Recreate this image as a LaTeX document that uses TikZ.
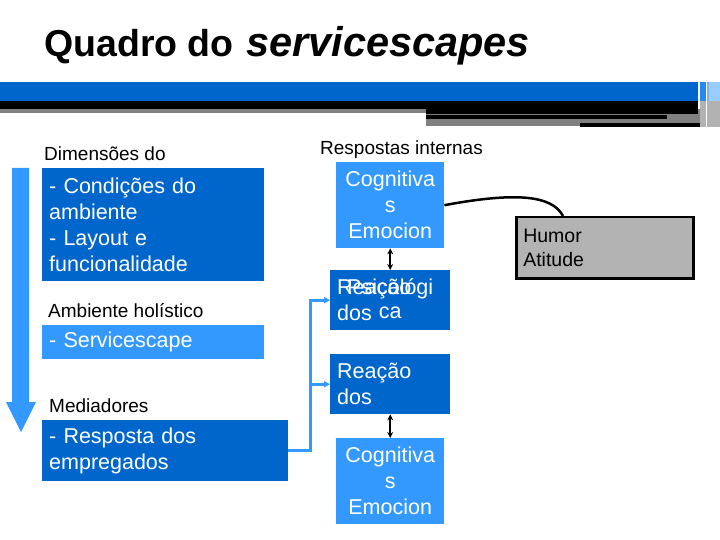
\documentclass[tikz,border=0pt]{standalone}
\usepackage{fontspec}
\setmainfont{Liberation Sans}
\usetikzlibrary{arrows.meta}
\definecolor{deepblue}{HTML}{0066CC}
\definecolor{skyblue}{HTML}{3399FF}
\definecolor{ashgray}{HTML}{B3B3B3}
\tikzset{
  darkbox/.style={fill=deepblue,text=white,anchor=north west,align=left,
    inner xsep=7pt,inner ysep=0pt,font=\fontsize{21.5}{26}\selectfont},
  lightbox/.style={darkbox,fill=skyblue},
  caption/.style={anchor=base west,inner sep=0pt,font=\fontsize{19}{22}\selectfont},
  feed/.style={skyblue,line width=3pt,-{Triangle[length=6pt,width=6pt]}},
  pair/.style={black,line width=1.6pt,{Stealth[length=6pt,width=6pt]}-{Stealth[length=6pt,width=6pt]}}
}

\begin{document}
\begin{tikzpicture}[x=1pt,y=-1pt]
\useasboundingbox (0,0) rectangle (720,540);

% title and header bars
\node[anchor=base west,inner sep=0pt,font=\fontsize{37.5}{40}\selectfont\bfseries] (title) at (44,57) {Quadro do \hspace{2pt}{\fontsize{41.5}{42}\selectfont\itshape servicescapes}};
\fill[deepblue] (0,82) rectangle (698,101);
\fill[black] (0,101) rectangle (698,109);
\fill[gray] (0,109) rectangle (426,113);
\fill[gray] (426,109) rectangle (705,126);
\fill[black] (426,109) rectangle (698,114);
\fill[black] (426,115) rectangle (667,119);
\fill[black] (580,123) rectangle (705,127);
\foreach \sx/\sw/\sc in {700/6/skyblue!70!deepblue,707/2/deepblue!50,709/11/skyblue!50} {
  \fill[\sc] (\sx,82) rectangle (\sx+\sw,101);
  \fill[gray!60] (\sx,101) rectangle (\sx+\sw,127);
}

% flow arrow on the left
\fill[skyblue] (12,168) -- (29,168) -- (29,402) -- (36,402) -- (21,432) -- (6,402) -- (12,402) -- cycle;

% left column
\node[caption] (dimlabel) at (44,161) {Dimensões do};
\node[darkbox,minimum width=222pt,minimum height=113pt,text width=208pt] (cond) at (42,168) {- Condições do\\ambiente\\- Layout e\\funcionalidade};
\node[caption] (holistic) at (48,317) {Ambiente holístico};
\node[lightbox,minimum width=222pt,minimum height=34pt,text width=208pt] (scape) at (42,325) {- Servicescape};
\node[caption] (medlabel) at (49,412) {Mediadores};
\node[darkbox,minimum width=246pt,minimum height=61pt,text width=232pt] (resp) at (42,420) {- Resposta dos\\empregados};

% right column
\node[caption] (intlabel) at (320,155) {Respostas internas};
\node[lightbox,align=center,minimum width=108pt,minimum height=86pt,text width=94pt] (cogA) at (336,162) {Cognitiva\\s\\Emocion};
\node[darkbox,minimum width=120pt,minimum height=60pt,text width=106pt] (psico) at (330,270) {Reação\\dos};
\node[text=white,align=center,inner sep=0pt,font=\fontsize{21.5}{24}\selectfont] (psicotext) at ([yshift=2pt]psico.center) {Psicológi\\ca};
\node[darkbox,minimum width=120pt,minimum height=60pt,text width=106pt] (reacao) at (330,354) {Reação\\dos};
\node[lightbox,align=center,minimum width=108pt,minimum height=86pt,text width=94pt] (cogB) at (336,438) {Cognitiva\\s\\Emocion};
\node[draw=black,line width=2.5pt,fill=ashgray,anchor=north west,align=left,inner xsep=7pt,inner ysep=0pt,
  minimum width=177pt,minimum height=61pt,text width=163pt,font=\fontsize{19.5}{24}\selectfont] (humor) at (515,216) {Humor\\Atitude};

% connectors
\draw[feed] (resp.east) -- ++(22,0) |- (psico.west);
\draw[feed] (resp.east) -- ++(22,0) |- (reacao.west);
\draw[pair] (cogA) -- (psico);
\draw[pair] (reacao) -- (cogB);
\draw[line width=2.5pt] (cogA.east) .. controls (515,192) and (552,195) .. ([xshift=48pt]humor.north west);
\end{tikzpicture}
\end{document}
